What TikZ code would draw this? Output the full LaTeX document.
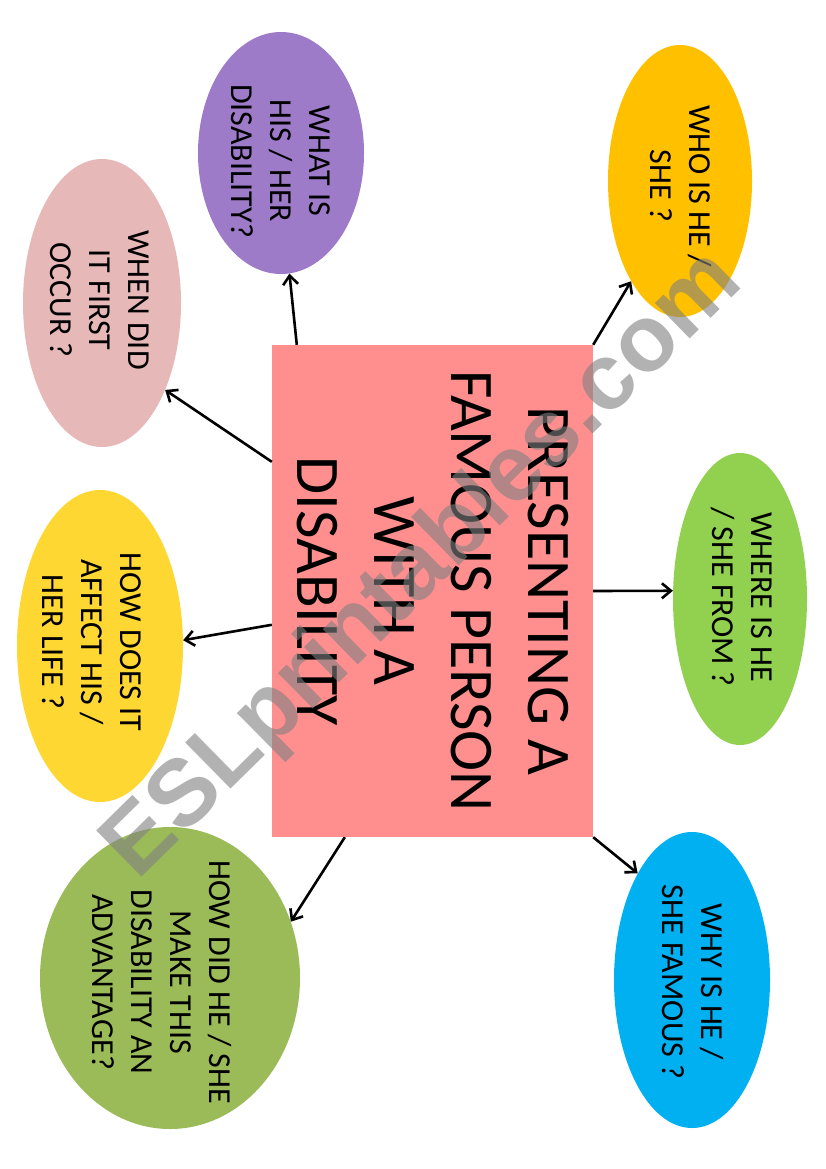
\documentclass[tikz,border=0pt]{standalone}
\usepackage{fontspec}
\setmainfont{Carlito}
\newfontfamily\wmfont{Liberation Sans}
\usetikzlibrary{shapes.geometric,arrows.meta}
\definecolor{boxpink}{HTML}{FF8F8F}
\definecolor{cwho}{HTML}{FFC000}
\definecolor{cwhere}{HTML}{92D050}
\definecolor{cwhy}{HTML}{00B0F0}
\definecolor{cwhat}{HTML}{9E7BC8}
\definecolor{cwhen}{HTML}{E6B9B8}
\definecolor{caffect}{HTML}{FFD733}
\definecolor{cadv}{HTML}{9BBB59}
\begin{document}
\begin{tikzpicture}[x=1pt,y=-1pt,
  bubble/.style={ellipse, inner sep=0pt, draw=none},
  qtext/.style={rotate=-90, align=center, inner sep=0pt, text=black,
    font=\fontsize{32}{39}\selectfont},
  link/.style={line width=2.6pt, draw=black,
    -{Straight Barb[length=9pt,width=15pt,line width=2.6pt]}}
]
\fill[white] (0,0) rectangle (826,1169);
\useasboundingbox (0,0) rectangle (826,1169);

% central box
\node[fill=boxpink, minimum width=321pt, minimum height=492pt, inner sep=0pt] (main) at (432.5,591) {};
\node[rotate=-90, align=center, inner sep=0pt, font=\fontsize{62}{77}\selectfont] (maint) at (main)
  {PRESENTING A\\FAMOUS PERSON\\WITH A\\DISABILITY};

% bubbles
\node[bubble, fill=cwho, minimum width=144pt, minimum height=272pt] (who) at (680,181) {};
\node[qtext] (whot) at (681,186) {WHO IS HE /\\SHE ?};

\node[bubble, fill=cwhere, minimum width=134pt, minimum height=292pt] (where) at (740,599) {};
\node[qtext] (wheret) at (742,597) {WHERE IS HE\\/ SHE FROM ?};

\node[bubble, fill=cwhy, minimum width=156pt, minimum height=296pt] (why) at (692,980) {};
\node[qtext] (whyt) at (693,982) {WHY IS HE /\\SHE FAMOUS ?};

\node[bubble, fill=cwhat, minimum width=166pt, minimum height=242pt] (what) at (281,153) {};
\node[qtext] (whatt) at (281,161) {WHAT IS\\HIS / HER\\DISABILITY?};

\node[bubble, fill=cwhen, minimum width=158pt, minimum height=288pt] (when) at (102,303) {};
\node[qtext] (whent) at (100,300) {WHEN DID\\IT FIRST\\OCCUR ?};

\node[bubble, fill=caffect, minimum width=166pt, minimum height=312pt] (affect) at (100,646) {};
\node[qtext] (affectt) at (92,642) {HOW DOES IT\\AFFECT HIS /\\HER LIFE ?};

\node[bubble, fill=cadv, minimum width=260pt, minimum height=302pt] (adv) at (170,978) {};
\node[qtext] (advt) at (162,982) {HOW DID HE / SHE\\MAKE THIS\\DISABILITY AN\\ADVANTAGE?};

% connectors
\draw[link] (main.north east) -- (who.244);
\draw[link] (main.east) -- (where.173);
\draw[link] (main.south east) -- (why.117);
\draw[link] ([xshift=25pt]main.north west) -- (what.274);
\draw[link] ([yshift=-117pt]main.north west) -- (when.306);
\draw[link] ([yshift=-280pt]main.north west) -- (affect.4);
\draw[link] ([xshift=73pt]main.south west) -- (adv.25);

% watermark
\node[rotate=44.5, text=gray, text opacity=0.6, inner sep=0pt,
  font=\wmfont\bfseries\fontsize{94}{100}\selectfont] (wm) at (424,566) {ESLprintables.com};
\end{tikzpicture}
\end{document}
